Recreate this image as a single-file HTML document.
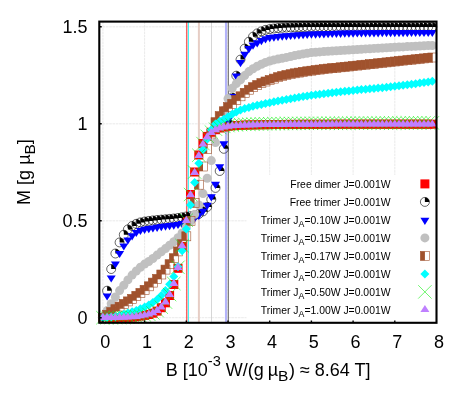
<!DOCTYPE html><html><head><meta charset="utf-8"><title>plot</title><style>html,body{margin:0;padding:0;background:#fff}svg{display:block;will-change:transform}text{font-family:"Liberation Sans",sans-serif;fill:#000}</style></head><body>
<svg width="463" height="399" viewBox="0 0 463 399">
<rect width="463" height="399" fill="#fff"/>
<defs>
<rect id="m1" x="-4.5" y="-4.5" width="9.0" height="9.0" fill="#ff0000"/>
<g id="m2"><path d="M0 0H4.5A4.5 4.5 0 0 0 0 -4.5Z" fill="#000"/><circle r="4.5" fill="none" stroke="#000" stroke-width="0.6"/></g>
<path id="m3" d="M0 5L-4.5 -2.2H4.5Z" fill="#0000ff"/>
<circle id="m4" r="4.5" fill="#c0c0c0"/>
<g id="m5"><rect x="-4.5" y="-4.5" width="4.5" height="9.0" fill="#a0522d"/><rect x="-4.5" y="-4.5" width="9.0" height="9.0" fill="none" stroke="#a0522d" stroke-width="0.6"/></g>
<path id="m6" d="M0 -4.5L4.5 0L0 4.5L-4.5 0Z" fill="#00ffff"/>
<path id="m7" d="M-6.7 -6.7L6.7 6.7M-6.7 6.7L6.7 -6.7" stroke="#10f010" stroke-width="0.6" fill="none"/>
<path id="m8" d="M0 -5L-4.5 2.2H4.5Z" fill="#bf80ff"/>
</defs>
<path d="M102.9 21.6V322.8M144.6 21.6V322.8M186.3 21.6V322.8M228 21.6V322.8M269.7 21.6V322.8M311.4 21.6V322.8M353.1 21.6V322.8M394.8 21.6V322.8M99.3 317.7H436.5M99.3 220.8H436.5M99.3 123.8H436.5M99.3 26.8H436.5" stroke="#e3e3e3" stroke-width="0.8" stroke-dasharray="2.6 0.7" fill="none"/>
<path d="M186.8 21.6V322.8" stroke="#ff3030" stroke-width="1.1"/>
<path d="M188.4 21.6V322.8" stroke="#30f4f4" stroke-width="1.0"/>
<path d="M198.9 21.6V322.8" stroke="#e6cdc5" stroke-width="2.0"/>
<path d="M211.5 21.6V322.8" stroke="#cccccc" stroke-width="0.8"/>
<path d="M226.0 21.6V322.8" stroke="#b4b4fa" stroke-width="2.1"/>
<path d="M228.3 21.6V322.8" stroke="#686868" stroke-width="1.1"/>
<g><use href="#m1" x="102.9" y="317.7"/><use href="#m1" x="107.1" y="317.7"/><use href="#m1" x="111.2" y="317.7"/><use href="#m1" x="115.4" y="317.7"/><use href="#m1" x="119.6" y="317.6"/><use href="#m1" x="123.8" y="317.6"/><use href="#m1" x="127.9" y="317.4"/><use href="#m1" x="132.1" y="317.1"/><use href="#m1" x="136.3" y="316.7"/><use href="#m1" x="140.4" y="316.1"/><use href="#m1" x="144.6" y="315.4"/><use href="#m1" x="148.8" y="314.5"/><use href="#m1" x="152.9" y="313.2"/><use href="#m1" x="157.1" y="311.1"/><use href="#m1" x="161.3" y="307.7"/><use href="#m1" x="165.5" y="302.8"/><use href="#m1" x="169.6" y="295.5"/><use href="#m1" x="173.8" y="284.5"/><use href="#m1" x="178" y="268.3"/><use href="#m1" x="182.1" y="246.5"/><use href="#m1" x="186.3" y="220.6"/><use href="#m1" x="190.5" y="194.5"/><use href="#m1" x="194.6" y="172"/><use href="#m1" x="198.8" y="155"/><use href="#m1" x="203" y="143.5"/><use href="#m1" x="207.2" y="136.4"/><use href="#m1" x="211.3" y="132.3"/><use href="#m1" x="215.5" y="129.7"/><use href="#m1" x="219.7" y="128"/><use href="#m1" x="223.8" y="127"/><use href="#m1" x="228" y="126.3"/><use href="#m1" x="232.2" y="125.8"/><use href="#m1" x="236.3" y="125.5"/><use href="#m1" x="240.5" y="125.3"/><use href="#m1" x="244.7" y="125.1"/><use href="#m1" x="248.9" y="125"/><use href="#m1" x="253" y="124.9"/><use href="#m1" x="257.2" y="124.8"/><use href="#m1" x="261.4" y="124.7"/><use href="#m1" x="265.5" y="124.7"/><use href="#m1" x="269.7" y="124.6"/><use href="#m1" x="273.9" y="124.5"/><use href="#m1" x="278" y="124.5"/><use href="#m1" x="282.2" y="124.5"/><use href="#m1" x="286.4" y="124.4"/><use href="#m1" x="290.6" y="124.4"/><use href="#m1" x="294.7" y="124.4"/><use href="#m1" x="298.9" y="124.4"/><use href="#m1" x="303.1" y="124.3"/><use href="#m1" x="307.2" y="124.3"/><use href="#m1" x="311.4" y="124.3"/><use href="#m1" x="315.6" y="124.3"/><use href="#m1" x="319.7" y="124.3"/><use href="#m1" x="323.9" y="124.3"/><use href="#m1" x="328.1" y="124.3"/><use href="#m1" x="332.2" y="124.2"/><use href="#m1" x="336.4" y="124.2"/><use href="#m1" x="340.6" y="124.2"/><use href="#m1" x="344.8" y="124.2"/><use href="#m1" x="348.9" y="124.2"/><use href="#m1" x="353.1" y="124.2"/><use href="#m1" x="357.3" y="124.2"/><use href="#m1" x="361.4" y="124.2"/><use href="#m1" x="365.6" y="124.2"/><use href="#m1" x="369.8" y="124.2"/><use href="#m1" x="374" y="124.2"/><use href="#m1" x="378.1" y="124.2"/><use href="#m1" x="382.3" y="124.2"/><use href="#m1" x="386.5" y="124.2"/><use href="#m1" x="390.6" y="124.2"/><use href="#m1" x="394.8" y="124.2"/><use href="#m1" x="399" y="124.2"/><use href="#m1" x="403.1" y="124.2"/><use href="#m1" x="407.3" y="124.2"/><use href="#m1" x="411.5" y="124.2"/><use href="#m1" x="415.6" y="124.2"/><use href="#m1" x="419.8" y="124.2"/><use href="#m1" x="424" y="124.2"/><use href="#m1" x="428.2" y="124.2"/><use href="#m1" x="432.3" y="124.2"/></g>
<g><use href="#m2" x="102.9" y="317.7"/><use href="#m2" x="107.1" y="290.7"/><use href="#m2" x="111.2" y="269"/><use href="#m2" x="115.4" y="253.5"/><use href="#m2" x="119.6" y="242.4"/><use href="#m2" x="123.8" y="234.7"/><use href="#m2" x="127.9" y="229.4"/><use href="#m2" x="132.1" y="226"/><use href="#m2" x="136.3" y="223.8"/><use href="#m2" x="140.4" y="222.4"/><use href="#m2" x="144.6" y="221.5"/><use href="#m2" x="148.8" y="220.9"/><use href="#m2" x="152.9" y="220.4"/><use href="#m2" x="157.1" y="220"/><use href="#m2" x="161.3" y="219.6"/><use href="#m2" x="165.5" y="219.3"/><use href="#m2" x="169.6" y="218.9"/><use href="#m2" x="173.8" y="218.5"/><use href="#m2" x="178" y="218"/><use href="#m2" x="182.1" y="217.3"/><use href="#m2" x="186.3" y="216.5"/><use href="#m2" x="190.5" y="216.2"/><use href="#m2" x="194.6" y="215.4"/><use href="#m2" x="198.8" y="214"/><use href="#m2" x="203" y="211.4"/><use href="#m2" x="207.2" y="207"/><use href="#m2" x="211.3" y="199.5"/><use href="#m2" x="215.5" y="187.9"/><use href="#m2" x="219.7" y="171"/><use href="#m2" x="223.8" y="148.8"/><use href="#m2" x="228" y="123.1"/><use href="#m2" x="232.2" y="97.5"/><use href="#m2" x="236.3" y="75.7"/><use href="#m2" x="240.5" y="59.6"/><use href="#m2" x="244.7" y="48.6"/><use href="#m2" x="248.9" y="41.7"/><use href="#m2" x="253" y="36.7"/><use href="#m2" x="257.2" y="33.4"/><use href="#m2" x="261.4" y="31.3"/><use href="#m2" x="265.5" y="29.9"/><use href="#m2" x="269.7" y="29.1"/><use href="#m2" x="273.9" y="28.5"/><use href="#m2" x="278" y="28.1"/><use href="#m2" x="282.2" y="27.8"/><use href="#m2" x="286.4" y="27.6"/><use href="#m2" x="290.6" y="27.4"/><use href="#m2" x="294.7" y="27.3"/><use href="#m2" x="298.9" y="27.2"/><use href="#m2" x="303.1" y="27.1"/><use href="#m2" x="307.2" y="27.1"/><use href="#m2" x="311.4" y="27"/><use href="#m2" x="315.6" y="27"/><use href="#m2" x="319.7" y="27"/><use href="#m2" x="323.9" y="27"/><use href="#m2" x="328.1" y="26.9"/><use href="#m2" x="332.2" y="26.9"/><use href="#m2" x="336.4" y="26.9"/><use href="#m2" x="340.6" y="26.9"/><use href="#m2" x="344.8" y="26.9"/><use href="#m2" x="348.9" y="26.9"/><use href="#m2" x="353.1" y="26.9"/><use href="#m2" x="357.3" y="26.9"/><use href="#m2" x="361.4" y="26.9"/><use href="#m2" x="365.6" y="26.9"/><use href="#m2" x="369.8" y="26.9"/><use href="#m2" x="374" y="26.9"/><use href="#m2" x="378.1" y="26.9"/><use href="#m2" x="382.3" y="26.9"/><use href="#m2" x="386.5" y="26.9"/><use href="#m2" x="390.6" y="26.9"/><use href="#m2" x="394.8" y="26.9"/><use href="#m2" x="399" y="26.9"/><use href="#m2" x="403.1" y="26.9"/><use href="#m2" x="407.3" y="26.9"/><use href="#m2" x="411.5" y="26.9"/><use href="#m2" x="415.6" y="26.9"/><use href="#m2" x="419.8" y="26.9"/><use href="#m2" x="424" y="26.9"/><use href="#m2" x="428.2" y="26.9"/><use href="#m2" x="432.3" y="26.9"/></g>
<g><use href="#m3" x="102.9" y="317.7"/><use href="#m3" x="107.1" y="295.6"/><use href="#m3" x="111.2" y="277.6"/><use href="#m3" x="115.4" y="263.6"/><use href="#m3" x="119.6" y="253.1"/><use href="#m3" x="123.8" y="245.6"/><use href="#m3" x="127.9" y="239.6"/><use href="#m3" x="132.1" y="235.4"/><use href="#m3" x="136.3" y="232.1"/><use href="#m3" x="140.4" y="230.1"/><use href="#m3" x="144.6" y="229"/><use href="#m3" x="148.8" y="228.2"/><use href="#m3" x="152.9" y="227.6"/><use href="#m3" x="157.1" y="227"/><use href="#m3" x="161.3" y="226.3"/><use href="#m3" x="165.5" y="225.8"/><use href="#m3" x="169.6" y="225.3"/><use href="#m3" x="173.8" y="224.8"/><use href="#m3" x="178" y="224.1"/><use href="#m3" x="182.1" y="223.3"/><use href="#m3" x="186.3" y="222"/><use href="#m3" x="190.5" y="220.2"/><use href="#m3" x="194.6" y="217.8"/><use href="#m3" x="198.8" y="214.9"/><use href="#m3" x="203" y="210.7"/><use href="#m3" x="207.2" y="204.9"/><use href="#m3" x="211.3" y="196.5"/><use href="#m3" x="215.5" y="183.9"/><use href="#m3" x="219.7" y="166.5"/><use href="#m3" x="223.8" y="143.4"/><use href="#m3" x="228" y="119.9"/><use href="#m3" x="232.2" y="96.1"/><use href="#m3" x="236.3" y="75.7"/><use href="#m3" x="240.5" y="62.3"/><use href="#m3" x="244.7" y="54"/><use href="#m3" x="248.9" y="48.2"/><use href="#m3" x="253" y="44.8"/><use href="#m3" x="257.2" y="42.4"/><use href="#m3" x="261.4" y="40.3"/><use href="#m3" x="265.5" y="38.5"/><use href="#m3" x="269.7" y="37.3"/><use href="#m3" x="273.9" y="36.7"/><use href="#m3" x="278" y="36.2"/><use href="#m3" x="282.2" y="35.8"/><use href="#m3" x="286.4" y="35.4"/><use href="#m3" x="290.6" y="35.1"/><use href="#m3" x="294.7" y="34.8"/><use href="#m3" x="298.9" y="34.5"/><use href="#m3" x="303.1" y="34.2"/><use href="#m3" x="307.2" y="34"/><use href="#m3" x="311.4" y="33.8"/><use href="#m3" x="315.6" y="33.7"/><use href="#m3" x="319.7" y="33.5"/><use href="#m3" x="323.9" y="33.4"/><use href="#m3" x="328.1" y="33.2"/><use href="#m3" x="332.2" y="33.1"/><use href="#m3" x="336.4" y="33"/><use href="#m3" x="340.6" y="32.9"/><use href="#m3" x="344.8" y="32.8"/><use href="#m3" x="348.9" y="32.7"/><use href="#m3" x="353.1" y="32.7"/><use href="#m3" x="357.3" y="32.6"/><use href="#m3" x="361.4" y="32.6"/><use href="#m3" x="365.6" y="32.5"/><use href="#m3" x="369.8" y="32.5"/><use href="#m3" x="374" y="32.4"/><use href="#m3" x="378.1" y="32.4"/><use href="#m3" x="382.3" y="32.3"/><use href="#m3" x="386.5" y="32.3"/><use href="#m3" x="390.6" y="32.3"/><use href="#m3" x="394.8" y="32.2"/><use href="#m3" x="399" y="32.2"/><use href="#m3" x="403.1" y="32.2"/><use href="#m3" x="407.3" y="32.2"/><use href="#m3" x="411.5" y="32.1"/><use href="#m3" x="415.6" y="32.1"/><use href="#m3" x="419.8" y="32.1"/><use href="#m3" x="424" y="32.1"/><use href="#m3" x="428.2" y="32.1"/><use href="#m3" x="432.3" y="32.1"/></g>
<g><use href="#m4" x="102.9" y="317.7"/><use href="#m4" x="107.1" y="310.6"/><use href="#m4" x="111.2" y="303.7"/><use href="#m4" x="115.4" y="297"/><use href="#m4" x="119.6" y="290.6"/><use href="#m4" x="123.8" y="285.3"/><use href="#m4" x="127.9" y="279.9"/><use href="#m4" x="132.1" y="275.1"/><use href="#m4" x="136.3" y="271"/><use href="#m4" x="140.4" y="267.3"/><use href="#m4" x="144.6" y="264.1"/><use href="#m4" x="148.8" y="261.5"/><use href="#m4" x="152.9" y="258.5"/><use href="#m4" x="157.1" y="255.1"/><use href="#m4" x="161.3" y="251.8"/><use href="#m4" x="165.5" y="248.6"/><use href="#m4" x="169.6" y="245.3"/><use href="#m4" x="173.8" y="241.8"/><use href="#m4" x="178" y="237.8"/><use href="#m4" x="182.1" y="233"/><use href="#m4" x="186.3" y="227"/><use href="#m4" x="190.5" y="221.1"/><use href="#m4" x="194.6" y="214.4"/><use href="#m4" x="198.8" y="204.9"/><use href="#m4" x="203" y="193.6"/><use href="#m4" x="207.2" y="178.3"/><use href="#m4" x="211.3" y="160.6"/><use href="#m4" x="215.5" y="142.6"/><use href="#m4" x="219.7" y="123.8"/><use href="#m4" x="223.8" y="110.2"/><use href="#m4" x="228" y="98.6"/><use href="#m4" x="232.2" y="88.2"/><use href="#m4" x="236.3" y="83.6"/><use href="#m4" x="240.5" y="79.9"/><use href="#m4" x="244.7" y="75.6"/><use href="#m4" x="248.9" y="71.6"/><use href="#m4" x="253" y="68.8"/><use href="#m4" x="257.2" y="66.3"/><use href="#m4" x="261.4" y="64.2"/><use href="#m4" x="265.5" y="62.4"/><use href="#m4" x="269.7" y="61"/><use href="#m4" x="273.9" y="59.9"/><use href="#m4" x="278" y="59.1"/><use href="#m4" x="282.2" y="58.3"/><use href="#m4" x="286.4" y="57.4"/><use href="#m4" x="290.6" y="56.5"/><use href="#m4" x="294.7" y="55.6"/><use href="#m4" x="298.9" y="54.7"/><use href="#m4" x="303.1" y="53.9"/><use href="#m4" x="307.2" y="53.2"/><use href="#m4" x="311.4" y="52.6"/><use href="#m4" x="315.6" y="52.2"/><use href="#m4" x="319.7" y="51.9"/><use href="#m4" x="323.9" y="51.5"/><use href="#m4" x="328.1" y="51.2"/><use href="#m4" x="332.2" y="51"/><use href="#m4" x="336.4" y="50.7"/><use href="#m4" x="340.6" y="50.5"/><use href="#m4" x="344.8" y="50.2"/><use href="#m4" x="348.9" y="50"/><use href="#m4" x="353.1" y="49.7"/><use href="#m4" x="357.3" y="49.5"/><use href="#m4" x="361.4" y="49.2"/><use href="#m4" x="365.6" y="48.9"/><use href="#m4" x="369.8" y="48.7"/><use href="#m4" x="374" y="48.4"/><use href="#m4" x="378.1" y="48.2"/><use href="#m4" x="382.3" y="48"/><use href="#m4" x="386.5" y="47.7"/><use href="#m4" x="390.6" y="47.5"/><use href="#m4" x="394.8" y="47.3"/><use href="#m4" x="399" y="47.1"/><use href="#m4" x="403.1" y="46.9"/><use href="#m4" x="407.3" y="46.6"/><use href="#m4" x="411.5" y="46.4"/><use href="#m4" x="415.6" y="46.2"/><use href="#m4" x="419.8" y="46"/><use href="#m4" x="424" y="45.8"/><use href="#m4" x="428.2" y="45.6"/><use href="#m4" x="432.3" y="45.5"/></g>
<g><use href="#m5" x="102.9" y="317.7"/><use href="#m5" x="107.1" y="314.8"/><use href="#m5" x="111.2" y="312"/><use href="#m5" x="115.4" y="309.2"/><use href="#m5" x="119.6" y="306.6"/><use href="#m5" x="123.8" y="303.9"/><use href="#m5" x="127.9" y="301.4"/><use href="#m5" x="132.1" y="298.9"/><use href="#m5" x="136.3" y="295.8"/><use href="#m5" x="140.4" y="292.9"/><use href="#m5" x="144.6" y="289.8"/><use href="#m5" x="148.8" y="286.3"/><use href="#m5" x="152.9" y="282.6"/><use href="#m5" x="157.1" y="278.9"/><use href="#m5" x="161.3" y="274.5"/><use href="#m5" x="165.5" y="269.6"/><use href="#m5" x="169.6" y="264.2"/><use href="#m5" x="173.8" y="258.2"/><use href="#m5" x="178" y="251.4"/><use href="#m5" x="182.1" y="244.2"/><use href="#m5" x="186.3" y="236.3"/><use href="#m5" x="190.5" y="220.8"/><use href="#m5" x="194.6" y="202.9"/><use href="#m5" x="198.8" y="184.7"/><use href="#m5" x="203" y="166.5"/><use href="#m5" x="207.2" y="149"/><use href="#m5" x="211.3" y="133.5"/><use href="#m5" x="215.5" y="122.2"/><use href="#m5" x="219.7" y="116.1"/><use href="#m5" x="223.8" y="111.3"/><use href="#m5" x="228" y="107.1"/><use href="#m5" x="232.2" y="103.8"/><use href="#m5" x="236.3" y="100"/><use href="#m5" x="240.5" y="96.3"/><use href="#m5" x="244.7" y="92.8"/><use href="#m5" x="248.9" y="89.7"/><use href="#m5" x="253" y="87.2"/><use href="#m5" x="257.2" y="85"/><use href="#m5" x="261.4" y="83.1"/><use href="#m5" x="265.5" y="81.5"/><use href="#m5" x="269.7" y="80"/><use href="#m5" x="273.9" y="78.6"/><use href="#m5" x="278" y="77.2"/><use href="#m5" x="282.2" y="76"/><use href="#m5" x="286.4" y="75"/><use href="#m5" x="290.6" y="74.2"/><use href="#m5" x="294.7" y="73.3"/><use href="#m5" x="298.9" y="72.6"/><use href="#m5" x="303.1" y="71.9"/><use href="#m5" x="307.2" y="71.3"/><use href="#m5" x="311.4" y="70.7"/><use href="#m5" x="315.6" y="70.1"/><use href="#m5" x="319.7" y="69.6"/><use href="#m5" x="323.9" y="69.1"/><use href="#m5" x="328.1" y="68.6"/><use href="#m5" x="332.2" y="68.2"/><use href="#m5" x="336.4" y="67.8"/><use href="#m5" x="340.6" y="67.3"/><use href="#m5" x="344.8" y="66.9"/><use href="#m5" x="348.9" y="66.5"/><use href="#m5" x="353.1" y="66"/><use href="#m5" x="357.3" y="65.6"/><use href="#m5" x="361.4" y="65.1"/><use href="#m5" x="365.6" y="64.7"/><use href="#m5" x="369.8" y="64.2"/><use href="#m5" x="374" y="63.8"/><use href="#m5" x="378.1" y="63.3"/><use href="#m5" x="382.3" y="62.9"/><use href="#m5" x="386.5" y="62.4"/><use href="#m5" x="390.6" y="62"/><use href="#m5" x="394.8" y="61.5"/><use href="#m5" x="399" y="61.1"/><use href="#m5" x="403.1" y="60.6"/><use href="#m5" x="407.3" y="60.2"/><use href="#m5" x="411.5" y="59.7"/><use href="#m5" x="415.6" y="59.3"/><use href="#m5" x="419.8" y="58.8"/><use href="#m5" x="424" y="58.4"/><use href="#m5" x="428.2" y="57.9"/><use href="#m5" x="432.3" y="57.5"/></g>
<g><use href="#m6" x="102.9" y="317.7"/><use href="#m6" x="107.1" y="317.5"/><use href="#m6" x="111.2" y="317.1"/><use href="#m6" x="115.4" y="316.5"/><use href="#m6" x="119.6" y="315.6"/><use href="#m6" x="123.8" y="314.3"/><use href="#m6" x="127.9" y="313"/><use href="#m6" x="132.1" y="311.8"/><use href="#m6" x="136.3" y="310.4"/><use href="#m6" x="140.4" y="308.8"/><use href="#m6" x="144.6" y="307.1"/><use href="#m6" x="148.8" y="305"/><use href="#m6" x="152.9" y="302.5"/><use href="#m6" x="157.1" y="299.4"/><use href="#m6" x="161.3" y="295.4"/><use href="#m6" x="165.5" y="290.6"/><use href="#m6" x="169.6" y="284.3"/><use href="#m6" x="173.8" y="276.4"/><use href="#m6" x="178" y="266.8"/><use href="#m6" x="182.1" y="250.8"/><use href="#m6" x="186.3" y="229.1"/><use href="#m6" x="190.5" y="204.9"/><use href="#m6" x="194.6" y="182.4"/><use href="#m6" x="198.8" y="163.2"/><use href="#m6" x="203" y="149.6"/><use href="#m6" x="207.2" y="139.3"/><use href="#m6" x="211.3" y="129.8"/><use href="#m6" x="215.5" y="123.9"/><use href="#m6" x="219.7" y="121.2"/><use href="#m6" x="223.8" y="119.2"/><use href="#m6" x="228" y="116.8"/><use href="#m6" x="232.2" y="114.3"/><use href="#m6" x="236.3" y="111.9"/><use href="#m6" x="240.5" y="110.1"/><use href="#m6" x="244.7" y="108.6"/><use href="#m6" x="248.9" y="107.4"/><use href="#m6" x="253" y="106.3"/><use href="#m6" x="257.2" y="105.3"/><use href="#m6" x="261.4" y="104.4"/><use href="#m6" x="265.5" y="103.5"/><use href="#m6" x="269.7" y="102.7"/><use href="#m6" x="273.9" y="101.8"/><use href="#m6" x="278" y="101"/><use href="#m6" x="282.2" y="100.2"/><use href="#m6" x="286.4" y="99.4"/><use href="#m6" x="290.6" y="98.7"/><use href="#m6" x="294.7" y="97.9"/><use href="#m6" x="298.9" y="97.2"/><use href="#m6" x="303.1" y="96.5"/><use href="#m6" x="307.2" y="95.9"/><use href="#m6" x="311.4" y="95.3"/><use href="#m6" x="315.6" y="94.7"/><use href="#m6" x="319.7" y="94.2"/><use href="#m6" x="323.9" y="93.7"/><use href="#m6" x="328.1" y="93.2"/><use href="#m6" x="332.2" y="92.7"/><use href="#m6" x="336.4" y="92.2"/><use href="#m6" x="340.6" y="91.8"/><use href="#m6" x="344.8" y="91.3"/><use href="#m6" x="348.9" y="90.9"/><use href="#m6" x="353.1" y="90.4"/><use href="#m6" x="357.3" y="90"/><use href="#m6" x="361.4" y="89.6"/><use href="#m6" x="365.6" y="89.2"/><use href="#m6" x="369.8" y="88.8"/><use href="#m6" x="374" y="88.5"/><use href="#m6" x="378.1" y="88.1"/><use href="#m6" x="382.3" y="87.7"/><use href="#m6" x="386.5" y="87.2"/><use href="#m6" x="390.6" y="86.8"/><use href="#m6" x="394.8" y="86.3"/><use href="#m6" x="399" y="85.8"/><use href="#m6" x="403.1" y="85.3"/><use href="#m6" x="407.3" y="84.8"/><use href="#m6" x="411.5" y="84.2"/><use href="#m6" x="415.6" y="83.7"/><use href="#m6" x="419.8" y="83.1"/><use href="#m6" x="424" y="82.5"/><use href="#m6" x="428.2" y="81.9"/><use href="#m6" x="432.3" y="81.3"/></g>
<g><use href="#m7" x="102.9" y="317.7"/><use href="#m7" x="107.1" y="317.7"/><use href="#m7" x="111.2" y="317.7"/><use href="#m7" x="115.4" y="317.6"/><use href="#m7" x="119.6" y="317.6"/><use href="#m7" x="123.8" y="317.5"/><use href="#m7" x="127.9" y="317.3"/><use href="#m7" x="132.1" y="317"/><use href="#m7" x="136.3" y="316.6"/><use href="#m7" x="140.4" y="316"/><use href="#m7" x="144.6" y="315.2"/><use href="#m7" x="148.8" y="314.3"/><use href="#m7" x="152.9" y="312.9"/><use href="#m7" x="157.1" y="310.6"/><use href="#m7" x="161.3" y="307.2"/><use href="#m7" x="165.5" y="302.1"/><use href="#m7" x="169.6" y="294.6"/><use href="#m7" x="173.8" y="283.5"/><use href="#m7" x="178" y="267.3"/><use href="#m7" x="182.1" y="245.7"/><use href="#m7" x="186.3" y="220.2"/><use href="#m7" x="190.5" y="194.5"/><use href="#m7" x="194.6" y="172.1"/><use href="#m7" x="198.8" y="155.2"/><use href="#m7" x="203" y="143.6"/><use href="#m7" x="207.2" y="136.3"/><use href="#m7" x="211.3" y="132"/><use href="#m7" x="215.5" y="129.2"/><use href="#m7" x="219.7" y="127.5"/><use href="#m7" x="223.8" y="126.4"/><use href="#m7" x="228" y="125.6"/><use href="#m7" x="232.2" y="125.1"/><use href="#m7" x="236.3" y="124.8"/><use href="#m7" x="240.5" y="124.5"/><use href="#m7" x="244.7" y="124.3"/><use href="#m7" x="248.9" y="124.2"/><use href="#m7" x="253" y="124.1"/><use href="#m7" x="257.2" y="124"/><use href="#m7" x="261.4" y="123.9"/><use href="#m7" x="265.5" y="123.8"/><use href="#m7" x="269.7" y="123.7"/><use href="#m7" x="273.9" y="123.7"/><use href="#m7" x="278" y="123.6"/><use href="#m7" x="282.2" y="123.6"/><use href="#m7" x="286.4" y="123.5"/><use href="#m7" x="290.6" y="123.5"/><use href="#m7" x="294.7" y="123.5"/><use href="#m7" x="298.9" y="123.4"/><use href="#m7" x="303.1" y="123.4"/><use href="#m7" x="307.2" y="123.4"/><use href="#m7" x="311.4" y="123.3"/><use href="#m7" x="315.6" y="123.3"/><use href="#m7" x="319.7" y="123.3"/><use href="#m7" x="323.9" y="123.3"/><use href="#m7" x="328.1" y="123.2"/><use href="#m7" x="332.2" y="123.2"/><use href="#m7" x="336.4" y="123.2"/><use href="#m7" x="340.6" y="123.2"/><use href="#m7" x="344.8" y="123.2"/><use href="#m7" x="348.9" y="123.2"/><use href="#m7" x="353.1" y="123.1"/><use href="#m7" x="357.3" y="123.1"/><use href="#m7" x="361.4" y="123.1"/><use href="#m7" x="365.6" y="123.1"/><use href="#m7" x="369.8" y="123.1"/><use href="#m7" x="374" y="123.1"/><use href="#m7" x="378.1" y="123"/><use href="#m7" x="382.3" y="123"/><use href="#m7" x="386.5" y="123"/><use href="#m7" x="390.6" y="123"/><use href="#m7" x="394.8" y="123"/><use href="#m7" x="399" y="123"/><use href="#m7" x="403.1" y="123"/><use href="#m7" x="407.3" y="123"/><use href="#m7" x="411.5" y="122.9"/><use href="#m7" x="415.6" y="122.9"/><use href="#m7" x="419.8" y="122.9"/><use href="#m7" x="424" y="122.9"/><use href="#m7" x="428.2" y="122.9"/><use href="#m7" x="432.3" y="122.9"/></g>
<g><use href="#m8" x="102.9" y="317.7"/><use href="#m8" x="107.1" y="317.7"/><use href="#m8" x="111.2" y="317.7"/><use href="#m8" x="115.4" y="317.7"/><use href="#m8" x="119.6" y="317.6"/><use href="#m8" x="123.8" y="317.6"/><use href="#m8" x="127.9" y="317.4"/><use href="#m8" x="132.1" y="317.1"/><use href="#m8" x="136.3" y="316.7"/><use href="#m8" x="140.4" y="316.1"/><use href="#m8" x="144.6" y="315.4"/><use href="#m8" x="148.8" y="314.4"/><use href="#m8" x="152.9" y="313"/><use href="#m8" x="157.1" y="310.8"/><use href="#m8" x="161.3" y="307.4"/><use href="#m8" x="165.5" y="302.3"/><use href="#m8" x="169.6" y="294.8"/><use href="#m8" x="173.8" y="283.8"/><use href="#m8" x="178" y="267.7"/><use href="#m8" x="182.1" y="246.1"/><use href="#m8" x="186.3" y="220.7"/><use href="#m8" x="190.5" y="195.1"/><use href="#m8" x="194.6" y="172.8"/><use href="#m8" x="198.8" y="155.9"/><use href="#m8" x="203" y="144.4"/><use href="#m8" x="207.2" y="137.2"/><use href="#m8" x="211.3" y="132.9"/><use href="#m8" x="215.5" y="130.1"/><use href="#m8" x="219.7" y="128.4"/><use href="#m8" x="223.8" y="127.3"/><use href="#m8" x="228" y="126.6"/><use href="#m8" x="232.2" y="126.1"/><use href="#m8" x="236.3" y="125.7"/><use href="#m8" x="240.5" y="125.5"/><use href="#m8" x="244.7" y="125.3"/><use href="#m8" x="248.9" y="125.2"/><use href="#m8" x="253" y="125.1"/><use href="#m8" x="257.2" y="125"/><use href="#m8" x="261.4" y="124.9"/><use href="#m8" x="265.5" y="124.8"/><use href="#m8" x="269.7" y="124.8"/><use href="#m8" x="273.9" y="124.7"/><use href="#m8" x="278" y="124.7"/><use href="#m8" x="282.2" y="124.7"/><use href="#m8" x="286.4" y="124.6"/><use href="#m8" x="290.6" y="124.6"/><use href="#m8" x="294.7" y="124.6"/><use href="#m8" x="298.9" y="124.6"/><use href="#m8" x="303.1" y="124.5"/><use href="#m8" x="307.2" y="124.5"/><use href="#m8" x="311.4" y="124.5"/><use href="#m8" x="315.6" y="124.5"/><use href="#m8" x="319.7" y="124.5"/><use href="#m8" x="323.9" y="124.5"/><use href="#m8" x="328.1" y="124.5"/><use href="#m8" x="332.2" y="124.4"/><use href="#m8" x="336.4" y="124.4"/><use href="#m8" x="340.6" y="124.4"/><use href="#m8" x="344.8" y="124.4"/><use href="#m8" x="348.9" y="124.4"/><use href="#m8" x="353.1" y="124.4"/><use href="#m8" x="357.3" y="124.4"/><use href="#m8" x="361.4" y="124.4"/><use href="#m8" x="365.6" y="124.4"/><use href="#m8" x="369.8" y="124.4"/><use href="#m8" x="374" y="124.4"/><use href="#m8" x="378.1" y="124.4"/><use href="#m8" x="382.3" y="124.4"/><use href="#m8" x="386.5" y="124.4"/><use href="#m8" x="390.6" y="124.4"/><use href="#m8" x="394.8" y="124.4"/><use href="#m8" x="399" y="124.4"/><use href="#m8" x="403.1" y="124.4"/><use href="#m8" x="407.3" y="124.4"/><use href="#m8" x="411.5" y="124.4"/><use href="#m8" x="415.6" y="124.4"/><use href="#m8" x="419.8" y="124.4"/><use href="#m8" x="424" y="124.4"/><use href="#m8" x="428.2" y="124.4"/><use href="#m8" x="432.3" y="124.4"/></g>
<rect x="246.5" y="175" width="190.0" height="147.8" fill="#fff"/>
<text x="390.5" y="187.7" font-size="10.4" text-anchor="end">Free dimer J=0.001W</text>
<use href="#m1" x="424.9" y="183.9"/>
<text x="390.5" y="205.7" font-size="10.4" text-anchor="end">Free trimer J=0.001W</text>
<use href="#m2" x="424.9" y="201.9"/>
<text x="390.5" y="223.7" font-size="10.4" text-anchor="end">Trimer J<tspan font-size="8.8" dy="2.9">A</tspan><tspan dy="-2.9">=0.10W J=0.001W</tspan></text>
<use href="#m3" x="424.9" y="219.9"/>
<text x="390.5" y="241.7" font-size="10.4" text-anchor="end">Trimer J<tspan font-size="8.8" dy="2.9">A</tspan><tspan dy="-2.9">=0.15W J=0.001W</tspan></text>
<use href="#m4" x="424.9" y="237.9"/>
<text x="390.5" y="259.7" font-size="10.4" text-anchor="end">Trimer J<tspan font-size="8.8" dy="2.9">A</tspan><tspan dy="-2.9">=0.17W J=0.001W</tspan></text>
<use href="#m5" x="424.9" y="255.9"/>
<text x="390.5" y="277.7" font-size="10.4" text-anchor="end">Trimer J<tspan font-size="8.8" dy="2.9">A</tspan><tspan dy="-2.9">=0.20W J=0.001W</tspan></text>
<use href="#m6" x="424.9" y="273.9"/>
<text x="390.5" y="295.7" font-size="10.4" text-anchor="end">Trimer J<tspan font-size="8.8" dy="2.9">A</tspan><tspan dy="-2.9">=0.50W J=0.001W</tspan></text>
<use href="#m7" x="424.9" y="291.9"/>
<text x="390.5" y="313.7" font-size="10.4" text-anchor="end">Trimer J<tspan font-size="8.8" dy="2.9">A</tspan><tspan dy="-2.9">=1.00W J=0.001W</tspan></text>
<use href="#m8" x="424.9" y="309.9"/>
<rect x="99.3" y="21.6" width="337.2" height="301.2" fill="none" stroke="#000" stroke-width="2.1"/>
<path d="M102.9 322.8v-2.4M144.6 322.8v-2.4M186.3 322.8v-2.4M228 322.8v-2.4M269.7 322.8v-2.4M311.4 322.8v-2.4M353.1 322.8v-2.4M394.8 322.8v-2.4M99.3 317.7h2.4M99.3 220.8h2.4M99.3 123.8h2.4M99.3 26.8h2.4" stroke="#000" stroke-width="1.4" fill="none"/>
<text x="105.3" y="347.8" font-size="18" text-anchor="middle">0</text>
<text x="147" y="347.8" font-size="18" text-anchor="middle">1</text>
<text x="188.7" y="347.8" font-size="18" text-anchor="middle">2</text>
<text x="230.4" y="347.8" font-size="18" text-anchor="middle">3</text>
<text x="272.1" y="347.8" font-size="18" text-anchor="middle">4</text>
<text x="313.8" y="347.8" font-size="18" text-anchor="middle">5</text>
<text x="355.5" y="347.8" font-size="18" text-anchor="middle">6</text>
<text x="397.2" y="347.8" font-size="18" text-anchor="middle">7</text>
<text x="438.9" y="347.8" font-size="18" text-anchor="middle">8</text>
<text x="87.5" y="323.8" font-size="18" text-anchor="end">0</text>
<text x="87.5" y="226.8" font-size="18" text-anchor="end">0.5</text>
<text x="87.5" y="129.9" font-size="18" text-anchor="end">1</text>
<text x="87.5" y="32.9" font-size="18" text-anchor="end">1.5</text>
<text x="268.2" y="375.5" font-size="18" text-anchor="middle">B [10<tspan font-size="14.6" dy="-9.4">-3</tspan><tspan dy="9.4"> W/(g </tspan><tspan dx="-1.2">µ</tspan><tspan font-size="15.5" dy="5.2">B</tspan><tspan dy="-5.2" dx="0.6">) ≈ 8.64 T]</tspan></text>
<text transform="translate(29.5,172) rotate(-90)" font-size="18" text-anchor="middle">M [g µ<tspan font-size="15.5" dy="5.2">B</tspan><tspan dy="-5.2">]</tspan></text>
</svg></body></html>
